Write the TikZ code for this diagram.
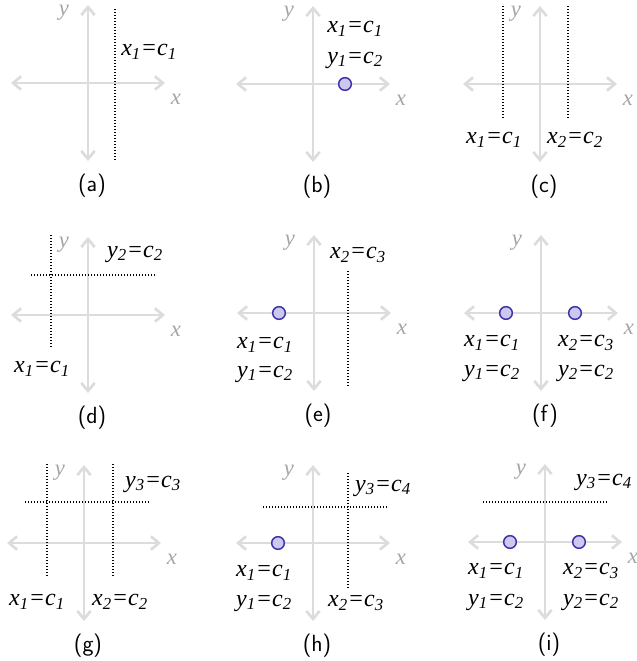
\documentclass[tikz,border=0pt]{standalone}
\usepackage{fontspec}
\newfontfamily\mathfont{Liberation Serif}
\usetikzlibrary{arrows.meta,positioning}
\definecolor{axisgray}{RGB}{220,220,220}
\definecolor{labelgray}{RGB}{165,165,165}
\definecolor{dotfill}{RGB}{205,200,240}
\definecolor{dotline}{RGB}{60,50,170}
\newcommand\vareq[4]{#1\textsubscript{#2}=#3\textsubscript{#4}}

\begin{document}
\begin{tikzpicture}[x=0.75pt,y=-0.75pt,
      ax/.style={{Straight Barb[length=6pt,width=10pt]}-{Straight Barb[length=6pt,width=10pt]},
                 color=axisgray,line width=2pt},
      al/.style={font=\mathfont\itshape\fontsize{17}{17}\selectfont,text=labelgray,inner sep=0pt},
      eq/.style={font=\mathfont\itshape\fontsize{18}{18}\selectfont,inner sep=0pt},
      capt/.style={font=\sffamily\fontsize{17.5}{17.5}\selectfont,inner sep=0pt},
      gl/.style={dash pattern=on 0.75pt off 1.5pt,line width=0.8pt},
      pnt/.style={circle,draw=dotline,fill=dotfill,line width=1.1pt,minimum size=9.5pt,inner sep=0pt}]
  \useasboundingbox (0,0) rectangle (636,661);
  % axes, axis names and captions
  \foreach \p/\ox/\oy in {a/88/83,b/313/84,c/540/84,d/88/315,e/314/313,f/541/313,
                          g/84/543,h/313/543,i/545/542} {
    \coordinate (\p W) at (\ox-77,\oy);
    \coordinate (\p E) at (\ox+77,\oy);
    \coordinate (\p N) at (\ox,\oy-78);
    \coordinate (\p S) at (\ox,\oy+78);
    \draw[ax] (\p W) -- (\p E);
    \draw[ax] (\p N) -- (\p S);
    \node[al] (\p x) at (\ox+88,\oy+16) {x};
    \node[al] (\p y) at (\ox-24,\oy-70) {y};
    \node[capt] (\p c) at (\ox+4,\oy+103) {(\p)};
  }
  % (a)
  \coordinate (a1t) at (115,9); \coordinate (a1b) at (115,160);
  \draw[gl] (a1t) -- (a1b);
  \node[eq,anchor=west] (a1) at (121,52) {\vareq x1c1};
  % (b)
  \node[pnt] (b0) at (345,84) {};
  \node[eq,anchor=west] (b1) at (327,29) {\vareq x1c1};
  \node[eq,anchor=west] (b2) at (327,60) {\vareq y1c2};
  % (c)
  \foreach \k/\xx in {1/503,2/568} {
    \coordinate (c\k t) at (\xx,6); \coordinate (c\k b) at (\xx,118);
    \draw[gl] (c\k t) -- (c\k b);
  }
  \node[eq] (c1) at (494,140) {\vareq x1c1};
  \node[eq] (c2) at (575,140) {\vareq x2c2};
  % (d)
  \coordinate (d1t) at (51,235); \coordinate (d1b) at (51,347);
  \coordinate (d2l) at (31,275); \coordinate (d2r) at (155,275);
  \draw[gl] (d1t) -- (d1b); \draw[gl] (d2l) -- (d2r);
  \node[eq] (d1) at (42,369) {\vareq x1c1};
  \node[eq] (d2) at (135,254) {\vareq y2c2};
  % (e)
  \node[pnt] (e0) at (279,313) {};
  \coordinate (e1t) at (348,271); \coordinate (e1b) at (348,387);
  \draw[gl] (e1t) -- (e1b);
  \node[eq] (e1) at (265,345) {\vareq x1c1};
  \node[eq] (e2) at (265,374) {\vareq y1c2};
  \node[eq] (e3) at (358,255) {\vareq x2c3};
  % (f)
  \node[pnt] (f0) at (506,313) {};
  \node[pnt] (f5) at (575,313) {};
  \node[eq] (f1) at (492,343) {\vareq x1c1};
  \node[eq] (f2) at (492,373) {\vareq y1c2};
  \node[eq] (f3) at (586,343) {\vareq x2c3};
  \node[eq] (f4) at (586,373) {\vareq y2c2};
  % (g)
  \foreach \k/\xx in {1/47,2/113} {
    \coordinate (g\k t) at (\xx,464); \coordinate (g\k b) at (\xx,577);
    \draw[gl] (g\k t) -- (g\k b);
  }
  \coordinate (g3l) at (25,502); \coordinate (g3r) at (150,502);
  \draw[gl] (g3l) -- (g3r);
  \node[eq] (g1) at (37,602) {\vareq x1c1};
  \node[eq] (g2) at (120,602) {\vareq x2c2};
  \node[eq] (g3) at (153,484) {\vareq y3c3};
  % (h)
  \node[pnt] (h0) at (278,543) {};
  \coordinate (h1t) at (348,473); \coordinate (h1b) at (348,590);
  \coordinate (h2l) at (263,507); \coordinate (h2r) at (389,507);
  \draw[gl] (h1t) -- (h1b); \draw[gl] (h2l) -- (h2r);
  \node[eq] (h1) at (264,573) {\vareq x1c1};
  \node[eq] (h2) at (264,603) {\vareq y1c2};
  \node[eq] (h3) at (356,603) {\vareq x2c3};
  \node[eq] (h4) at (383,488) {\vareq y3c4};
  % (i)
  \node[pnt] (i0) at (510,542) {};
  \node[pnt] (i6) at (579,542) {};
  \coordinate (i1l) at (483,502); \coordinate (i1r) at (609,502);
  \draw[gl] (i1l) -- (i1r);
  \node[eq] (i1) at (496,571) {\vareq x1c1};
  \node[eq] (i2) at (496,602) {\vareq y1c2};
  \node[eq] (i3) at (591,571) {\vareq x2c3};
  \node[eq] (i4) at (591,602) {\vareq y2c2};
  \node[eq] (i5) at (604,482) {\vareq y3c4};
\end{tikzpicture}
\end{document}
